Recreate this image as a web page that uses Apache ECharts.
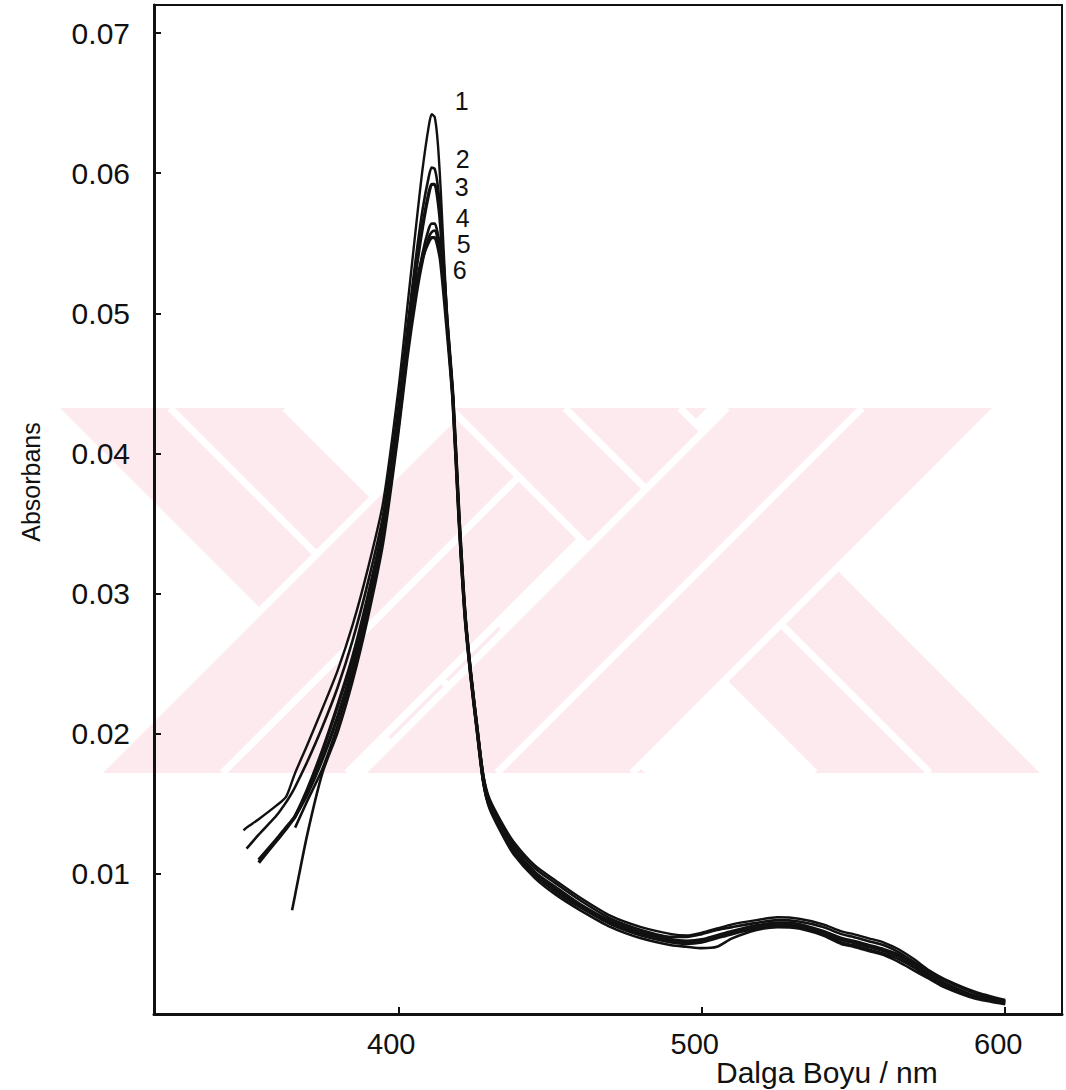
<!DOCTYPE html>
<html>
<head>
<meta charset="utf-8">
<script src="https://cdn.jsdelivr.net/npm/echarts@6/dist/echarts.min.js"></script>
<style>
  html, body { margin: 0; padding: 0; background: #fff; }
  #chart { width: 1066px; height: 1090px; }
</style>
</head>
<body>
<div id="chart"></div>
<script>
// wavelength grid (nm) shared by all six spectra
const wavelengths = [349, 350, 354, 360, 363, 365, 366, 370, 375, 380, 385, 390, 395,
  400, 403, 406, 408, 410, 411, 412, 413, 414, 416, 418, 420, 422, 424, 426, 428, 430,
  434, 438, 445, 452, 460, 470, 480, 490, 495, 500, 505, 510, 518, 525, 532, 540,
  546, 550, 555, 560, 565, 570, 575, 580, 590, 600];

// absorbance values (null = curve not yet started)
const curve1 = [0.0131, 0.0133, 0.0139, 0.0149, 0.0155, 0.0166, 0.0172,
  0.0192, 0.0218, 0.0245, 0.0278, 0.0318, 0.0365,
  0.0445, 0.0505, 0.0565, 0.0603,
  0.0633, 0.0642, 0.0640, 0.0622, 0.0587,
  0.0500, 0.0441, 0.0356, 0.0287, 0.0242, 0.0205, 0.0171, 0.0154,
  0.0137, 0.0123, 0.0106, 0.0095, 0.0083, 0.0070, 0.0062, 0.0057,
  0.0056, 0.0058, 0.0061, 0.0064, 0.0067, 0.0069, 0.0068, 0.0064,
  0.0059, 0.0057, 0.0054, 0.0051, 0.0046, 0.0039, 0.0031, 0.0025,
  0.0016, 0.0010];
const curve2 = [null, 0.0118, 0.0128, 0.0142, 0.0151, 0.0158, 0.0162,
  0.0180, 0.0205, 0.0233, 0.0267, 0.0308, 0.0356,
  0.0433, 0.0490, 0.0543, 0.0574,
  0.0597, 0.0604, 0.0603, 0.0591, 0.0568,
  0.0499, 0.0440, 0.0355, 0.0286, 0.0241, 0.0204, 0.0170, 0.0152,
  0.0135, 0.0121, 0.0104, 0.0093, 0.0081, 0.0068, 0.0060, 0.0055,
  0.0055, 0.0057, 0.0060, 0.0062, 0.0065, 0.0067, 0.0066, 0.0062,
  0.0057, 0.0055, 0.0052, 0.0049, 0.0044, 0.0037, 0.0030, 0.0024,
  0.0015, 0.0009];
const curve3 = [null, null, 0.0108, 0.0124, 0.0132, 0.0138, 0.0141,
  0.0160, 0.0188, 0.0220, 0.0255, 0.0298, 0.0348,
  0.0425, 0.0482, 0.0533, 0.0562,
  0.0585, 0.0592, 0.0592, 0.0582, 0.0561,
  0.0497, 0.0440, 0.0355, 0.0285, 0.0240, 0.0203, 0.0168, 0.0150,
  0.0133, 0.0118, 0.0101, 0.0090, 0.0078, 0.0066, 0.0058, 0.0053,
  0.0052, 0.0053, 0.0056, 0.0059, 0.0063, 0.0065, 0.0064, 0.0059,
  0.0054, 0.0052, 0.0049, 0.0046, 0.0042, 0.0035, 0.0028, 0.0022,
  0.0013, 0.0009];
const curve4 = [null, null, null, null, null, null, 0.0133,
  0.0152, 0.0175, 0.0206, 0.0243, 0.0288, 0.0340,
  0.0418, 0.0472, 0.0518, 0.0543,
  0.0560, 0.0564, 0.0564, 0.0557, 0.0545,
  0.0494, 0.0439, 0.0354, 0.0284, 0.0239, 0.0202, 0.0166, 0.0148,
  0.0131, 0.0116, 0.0099, 0.0087, 0.0076, 0.0064, 0.0056, 0.0051,
  0.0050, 0.0051, 0.0054, 0.0057, 0.0061, 0.0063, 0.0062, 0.0057,
  0.0051, 0.0049, 0.0046, 0.0043, 0.0039, 0.0033, 0.0026, 0.0020,
  0.0012, 0.0008];
const curve5 = [null, null, null, null, null, 0.0074, 0.0085,
  0.0128, 0.0172, 0.0201, 0.0238, 0.0283, 0.0336,
  0.0414, 0.0468, 0.0513, 0.0537,
  0.0554, 0.0558, 0.0559, 0.0553, 0.0541,
  0.0493, 0.0438, 0.0353, 0.0283, 0.0238, 0.0201, 0.0165, 0.0147,
  0.0129, 0.0114, 0.0097, 0.0085, 0.0074, 0.0062, 0.0054, 0.0049,
  0.0048, 0.0047, 0.0048, 0.0054, 0.0060, 0.0062, 0.0061, 0.0056,
  0.0050, 0.0048, 0.0045, 0.0042, 0.0037, 0.0031, 0.0025, 0.0019,
  0.0011, 0.0007];
const curve6 = [null, null, 0.0110, 0.0125, 0.0133, 0.0138, 0.0141,
  0.0157, 0.0182, 0.0212, 0.0248, 0.0292, 0.0343,
  0.0420, 0.0475, 0.0520, 0.0540,
  0.0551, 0.0554, 0.0554, 0.0548, 0.0536,
  0.0490, 0.0438, 0.0354, 0.0284, 0.0239, 0.0202, 0.0167, 0.0149,
  0.0132, 0.0117, 0.0100, 0.0088, 0.0077, 0.0065, 0.0057, 0.0052,
  0.0051, 0.0052, 0.0055, 0.0058, 0.0062, 0.0064, 0.0063, 0.0058,
  0.0053, 0.0051, 0.0048, 0.0045, 0.0041, 0.0034, 0.0027, 0.0021,
  0.0012, 0.0008];

const curveNames = ['1', '2', '3', '4', '5', '6'];
const xTicks = [400, 500, 600];
const yTicks = [0.01, 0.02, 0.03, 0.04, 0.05, 0.06, 0.07];

const allCurves = [curve1, curve2, curve3, curve4, curve5, curve6];
// where each peak number sits relative to its peak, and pen width
const labelOffsets = [[30, -13], [31, -9], [30, 3], [31, -6], [29, 13], [28, 32]];
const penWidths = [2.4, 2.6, 3.4, 2.6, 2.6, 3.4];

const font = "'Liberation Sans', Arial, sans-serif";
const ink = '#111';

const chart = echarts.init(document.getElementById('chart'), null, { renderer: 'svg' });

// ---- faint pink watermark behind the plot: crossing striped bands ----
const wm = { x0: 55, x1: 1060, y0: 408, y1: 773 };
const wmColor = '#fdeaee';
// dir 1: x - y = u (falling band), dir -1: x + y = u (rising band)
const wmBands = [
  { dir: 1, lo: -353, hi: -123 },
  { dir: -1, lo: 871, hi: 1120 },
  { dir: 1, lo: 42, hi: 272 },
  { dir: -1, lo: 1135, hi: 1405 }
];
function clipHalf(pts, f) { // keep f(p) <= 0
  const out = [];
  for (let i = 0; i < pts.length; i++) {
    const a = pts[i], b = pts[(i + 1) % pts.length];
    const fa = f(a), fb = f(b);
    if (fa <= 0) out.push(a);
    if ((fa < 0 && fb > 0) || (fa > 0 && fb < 0)) {
      const t = fa / (fa - fb);
      out.push([a[0] + t * (b[0] - a[0]), a[1] + t * (b[1] - a[1])]);
    }
  }
  return out;
}
function bandU(dir, p) { return dir === 1 ? p[0] - p[1] : p[0] + p[1]; }
function bandPoly(b) {
  let pts = [[wm.x0, wm.y0], [wm.x1, wm.y0], [wm.x1, wm.y1], [wm.x0, wm.y1]];
  pts = clipHalf(pts, function (p) { return b.lo - bandU(b.dir, p); });
  pts = clipHalf(pts, function (p) { return bandU(b.dir, p) - b.hi; });
  return pts;
}
function bandLine(dir, u) {
  let ya, yb;
  if (dir === 1) { ya = Math.max(wm.y0, wm.x0 - u); yb = Math.min(wm.y1, wm.x1 - u); }
  else { ya = Math.max(wm.y0, u - wm.x1); yb = Math.min(wm.y1, u - wm.x0); }
  if (ya >= yb) return null;
  const xa = dir === 1 ? u + ya : u - ya, xb = dir === 1 ? u + yb : u - yb;
  return [[xa, ya], [xb, yb]];
}
const watermark = [];
wmBands.forEach(function (b, i) {
  watermark.push({
    type: 'polygon', silent: true, z: -10 + i * 0.1,
    shape: { points: bandPoly(b) }, style: { fill: wmColor }
  });
  [b.lo, (b.lo + b.hi) / 2, b.hi].forEach(function (u) {
    const seg = bandLine(b.dir, u);
    if (!seg) return;
    watermark.push({
      type: 'polyline', silent: true, z: -10 + i * 0.1 + 0.05,
      shape: { points: seg }, style: { stroke: '#fff', lineWidth: 7, fill: null }
    });
  });
});

const series = allCurves.map(function (vals, i) {
  const data = [];
  wavelengths.forEach(function (w, j) {
    if (vals[j] != null) data.push([w, vals[j]]);
  });
  return {
    name: curveNames[i],
    type: 'line',
    data: data,
    smooth: 0.25,
    showSymbol: false,
    symbol: 'none',
    lineStyle: { color: ink, width: penWidths[i] },
    z: 3,
    markPoint: {
      symbol: 'circle',
      symbolSize: 1,
      itemStyle: { color: 'rgba(0,0,0,0)' },
      label: {
        show: true,
        position: 'inside',
        offset: labelOffsets[i],
        formatter: curveNames[i],
        color: ink,
        fontSize: 25,
        lineHeight: 20,
        fontFamily: font
      },
      data: [{ type: 'max' }]
    }
  };
});

chart.setOption({
  backgroundColor: '#fff',
  animation: false,
  graphic: watermark.concat([
    {
      type: 'text', x: 716, y: 1072, z: 10,
      style: {
        text: 'Dalga Boyu / nm', fill: ink, fontSize: 30, fontFamily: font,
        textAlign: 'left', textVerticalAlign: 'middle'
      }
    },
    {
      type: 'text', x: 31, y: 482, rotation: Math.PI / 2, z: 10,
      style: {
        text: 'Absorbans', fill: ink, fontSize: 25, fontFamily: font,
        textAlign: 'center', textVerticalAlign: 'middle'
      }
    }
  ]),
  grid: {
    left: 154, right: 4, top: 5, bottom: 76,
    show: true, borderColor: ink, borderWidth: 2, backgroundColor: 'transparent'
  },
  xAxis: {
    type: 'value',
    min: 319.5,
    max: 618.7,
    splitLine: { show: false },
    axisLine: { lineStyle: { color: ink, width: 3 } },
    axisTick: { inside: true, length: 7, customValues: xTicks, lineStyle: { color: ink, width: 2 } },
    axisLabel: {
      customValues: xTicks,
      color: ink, fontSize: 29, fontFamily: font, margin: 15,
      padding: [0, 14, 0, 0]
    }
  },
  yAxis: {
    type: 'value',
    min: 0,
    max: 0.072,
    splitLine: { show: false },
    axisLine: { lineStyle: { color: ink, width: 3 } },
    axisTick: { inside: true, length: 7, customValues: yTicks, lineStyle: { color: ink, width: 2 } },
    axisLabel: {
      customValues: yTicks,
      formatter: function (v) { return v.toFixed(2); },
      color: ink, fontSize: 30, fontFamily: font, margin: 24
    }
  },
  series: series
});
</script>
</body>
</html>
